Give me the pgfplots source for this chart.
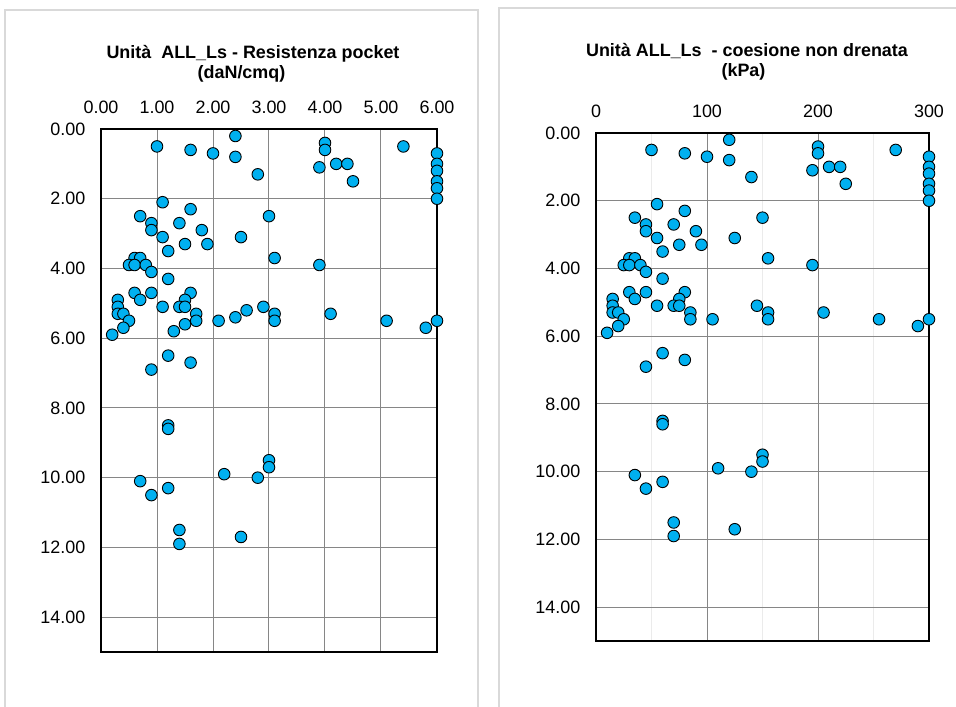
\documentclass[border=0pt]{standalone}
\usepackage{pgfplots}
\usepackage{pgfplotstable}
\pgfplotsset{compat=1.18}
\usepackage{fontspec}
\setmainfont{Liberation Sans}

\definecolor{dotfill}{HTML}{00B0F0}
\definecolor{gridgray}{HTML}{868686}
\definecolor{minorgray}{HTML}{EBEBEB}
\definecolor{framegray}{HTML}{D9D9D9}

% Pocket penetrometer resistance (daN/cmq) vs depth (m)
\pgfplotstableread{
r    z
1.0  0.5
1.6  0.6
2.0  0.7
2.4  0.2
2.4  0.8
2.8  1.3
4.0  0.4
4.0  0.6
3.9  1.1
4.2  1.0
4.4  1.0
4.5  1.5
5.4  0.5
6.0  0.7
6.0  1.0
6.0  1.2
6.0  1.5
6.0  1.7
6.0  2.0
1.1  2.1
1.6  2.3
0.7  2.5
0.9  2.7
0.9  2.9
1.4  2.7
1.8  2.9
1.1  3.1
1.5  3.3
1.9  3.3
1.2  3.5
2.5  3.1
3.0  2.5
3.1  3.7
3.9  3.9
0.6  3.7
0.7  3.7
0.5  3.9
0.6  3.9
0.8  3.9
0.9  4.1
1.2  4.3
0.6  4.7
0.9  4.7
0.7  4.9
1.6  4.7
1.5  4.9
0.3  4.9
0.3  5.1
1.1  5.1
1.4  5.1
1.5  5.1
0.3  5.3
0.4  5.3
1.7  5.3
2.6  5.2
2.9  5.1
3.1  5.3
4.1  5.3
0.5  5.5
1.7  5.5
1.5  5.6
2.1  5.5
2.4  5.4
3.1  5.5
5.1  5.5
6.0  5.5
5.8  5.7
0.4  5.7
1.3  5.8
0.2  5.9
1.2  6.5
1.6  6.7
0.9  6.9
1.2  8.5
1.2  8.6
3.0  9.5
3.0  9.7
2.2  9.9
2.8  10.0
0.7  10.1
1.2  10.3
0.9  10.5
1.4  11.5
1.4  11.9
2.5  11.7
}\pocket

% Undrained cohesion (kPa) vs depth (m)
\pgfplotstableread{
cu   z
50   0.5
80   0.6
100  0.7
120  0.2
120  0.8
140  1.3
200  0.4
200  0.6
195  1.1
210  1.0
220  1.0
225  1.5
270  0.5
300  0.7
300  1.0
300  1.2
300  1.5
300  1.7
300  2.0
55   2.1
80   2.3
35   2.5
45   2.7
45   2.9
70   2.7
90   2.9
55   3.1
75   3.3
95   3.3
60   3.5
125  3.1
150  2.5
155  3.7
195  3.9
30   3.7
35   3.7
25   3.9
30   3.9
40   3.9
45   4.1
60   4.3
30   4.7
45   4.7
35   4.9
80   4.7
75   4.9
15   4.9
15   5.1
55   5.1
70   5.1
75   5.1
15   5.3
20   5.3
85   5.3
145  5.1
155  5.3
205  5.3
25   5.5
85   5.5
105  5.5
155  5.5
255  5.5
300  5.5
290  5.7
20   5.7
10   5.9
60   6.5
80   6.7
45   6.9
60   8.5
60   8.6
150  9.5
150  9.7
110  9.9
140  10.0
35   10.1
60   10.3
45   10.5
70   11.5
70   11.9
125  11.7
}\cohesion

\pgfplotsset{
  depthplot/.style={
    scale only axis,
    anchor=north west,
    y dir=reverse,
    ymin=0, ymax=15,
    ytick={0,2,...,14},
    axis line style={black, line width=1.3bp},
    major grid style={gridgray, line width=1bp},
    minor grid style={minorgray, line width=1bp},
    major tick length=0pt,
    minor tick length=0pt,
    xticklabel pos=upper,
    tick label style={font=\fontsize{18}{20}\selectfont, inner sep=0pt},
    xticklabel style={yshift=15.5bp},
    yticklabel style={xshift=-15.5bp,
      /pgf/number format/fixed,
      /pgf/number format/fixed zerofill,
      /pgf/number format/precision=2},
    /pgf/number format/assume math mode=true,
    clip=false,
  },
  dots/.style={only marks, mark=*, mark size=5.8bp,
    mark options={fill=dotfill, draw=black, line width=0.9bp}},
}

\begin{document}
\begin{tikzpicture}
\path[use as bounding box] (0,0) rectangle (956bp,-707bp);

% panel frames
\draw[framegray, line width=1.2bp] (5bp,-707bp) -- (5bp,-10bp) -- (478bp,-10bp) -- (478bp,-707bp);
\draw[framegray, line width=1.2bp] (499bp,-707bp) -- (499bp,-8bp) -- (956bp,-8bp);

% titles
\node[anchor=base, font=\fontsize{18}{20}\selectfont\bfseries] at (253bp,-58.5bp) {Unità\ \ ALL\_Ls - Resistenza pocket};
\node[anchor=base, font=\fontsize{18}{20}\selectfont\bfseries] at (241.5bp,-78bp) {(daN/cmq)};
\node[anchor=base, font=\fontsize{18}{20}\selectfont\bfseries] at (747bp,-56.5bp) {Unità ALL\_Ls\ \ - coesione non drenata};
\node[anchor=base, font=\fontsize{18}{20}\selectfont\bfseries] at (743.5bp,-76bp) {(kPa)};

% pocket resistance
\begin{axis}[depthplot,
  at={(101bp,-129bp)}, width=336bp, height=523bp,
  xmin=0, xmax=6, xtick={0,1,...,6},
  grid=major,
  xticklabel style={
    /pgf/number format/fixed,
    /pgf/number format/fixed zerofill,
    /pgf/number format/precision=2},
]
\addplot[dots] table[x=r, y=z] {\pocket};
\end{axis}

% undrained cohesion
\begin{axis}[depthplot,
  at={(596bp,-133bp)}, width=333bp, height=508bp,
  xmin=0, xmax=300, xtick={0,100,200,300},
  minor xtick={50,150,250},
  grid=both,
]
\addplot[dots] table[x=cu, y=z] {\cohesion};
\end{axis}
\end{tikzpicture}
\end{document}
